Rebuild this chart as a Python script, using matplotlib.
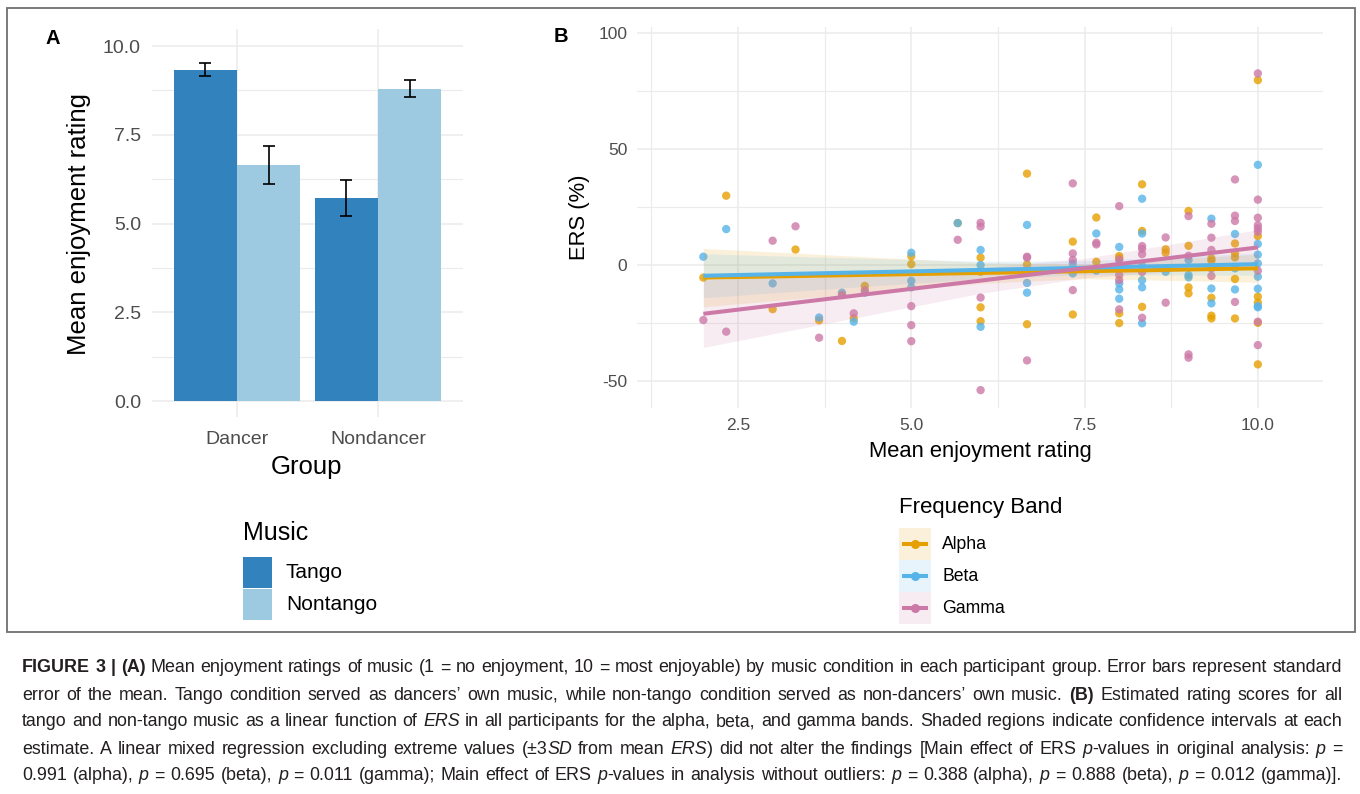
import re
import matplotlib
matplotlib.use('Agg')
import matplotlib.pyplot as plt
import numpy as np
from matplotlib.patches import Rectangle

plt.rcParams['font.family'] = ['Liberation Sans', 'DejaVu Sans']

# ---------------- Panel A data ----------------
groups = ['Dancer', 'Nondancer']
music_levels = ['Tango', 'Nontango']
tango_mean = [9.33, 5.72]
tango_se = [0.185, 0.51]
nontango_mean = [6.65, 8.80]
nontango_se = [0.535, 0.24]
a_yticks = [0.0, 2.5, 5.0, 7.5, 10.0]

# ---------------- Panel B data ----------------
bands = ['Alpha', 'Beta', 'Gamma']
alpha_x = [2.0, 2.33, 3.0, 3.33, 3.67, 4.0, 4.17, 4.33, 5.0, 5.0, 5.67, 6.0, 6.0, 6.0, 6.0,
           6.67, 6.67, 6.67, 7.33, 7.33, 7.67, 7.67, 8.0, 8.0, 8.0, 8.0, 8.33, 8.33, 8.33,
           8.67, 8.67, 9.0, 9.0, 9.0, 9.0, 9.33, 9.33, 9.33, 9.33, 9.33, 9.67, 9.67, 9.67,
           9.67, 9.67, 10.0, 10.0, 10.0, 10.0, 10.0, 10.0]
alpha_y = [-5.4, 29.9, -19.0, 6.7, -23.8, -32.7, -22.9, -9.0, 3.8, 0.4, 18.1, 3.2, -2.9, -18.2, -24.2,
           39.4, 0.3, -25.5, 10.1, -21.3, 20.5, 1.4, 3.9, 2.9, -20.8, -25.0, 34.8, 14.7, -18.0,
           6.8, 5.3, 23.3, 8.3, -9.6, -12.2, 2.9, 1.9, -14.1, -21.8, -23.0, 9.3, 5.0, 3.3,
           -6.0, -23.0, 79.7, 12.5, -13.6, -16.2, -24.9, -42.8]
beta_x = [2.0, 2.33, 3.0, 3.67, 4.0, 4.17, 4.33, 5.0, 5.0, 5.0, 5.67, 6.0, 6.0, 6.0, 6.67, 6.67,
          6.67, 7.33, 7.33, 7.67, 7.67, 8.0, 8.0, 8.0, 8.0, 8.0, 8.33, 8.33, 8.33, 8.33, 8.33,
          8.33, 8.67, 9.0, 9.0, 9.0, 9.33, 9.33, 9.33, 9.67, 9.67, 9.67, 10.0, 10.0, 10.0,
          10.0, 10.0, 10.0, 10.0, 10.0]
beta_y = [3.6, 15.5, -7.9, -22.6, -11.9, -24.4, -11.9, 5.3, -6.8, -9.6, 18.1, 6.5, 0.0, -26.6, 17.3, -7.7,
          -11.9, 0.7, -3.6, 13.6, -2.4, 7.8, 0.0, -7.9, -10.5, -14.5, 28.6, 13.6, -0.4, -6.5, -9.6,
          -25.1, -2.9, 2.2, -4.3, -5.3, 20.0, -10.1, -16.5, 13.4, -1.4, -10.5, 43.2, 9.1, 4.5,
          0.7, -5.0, -10.2, -17.7, -18.2]
gamma_x = [2.0, 2.33, 3.0, 3.33, 3.67, 4.0, 4.17, 4.33, 5.0, 5.0, 5.0, 5.67, 6.0, 6.0, 6.0, 6.0,
           6.67, 6.67, 6.67, 7.33, 7.33, 7.33, 7.33, 7.67, 7.67, 8.0, 8.0, 8.0, 8.0, 8.0, 8.33,
           8.33, 8.33, 8.33, 8.33, 8.67, 8.67, 9.0, 9.0, 9.0, 9.0, 9.33, 9.33, 9.33, 9.33, 9.33,
           9.67, 9.67, 9.67, 9.67, 10.0, 10.0, 10.0, 10.0, 10.0, 10.0, 10.0, 10.0, 10.0]
gamma_y = [-23.7, -28.7, 10.5, 16.7, -31.3, -12.9, -20.8, -10.8, -17.7, -25.9, -32.8, 10.9, 18.2, 16.6, -14.0, -53.9,
           3.6, 3.2, -41.1, 35.2, 5.0, 2.2, -10.8, 9.6, 8.9, 25.4, 2.2, -4.3, -6.5, -19.1, 8.2,
           7.0, 4.7, -3.0, -22.7, 11.9, -16.2, 21.1, 4.0, -38.5, -39.9, 17.8, 11.8, 6.5, -1.4, -4.7,
           36.9, 21.3, 19.0, -15.9, 82.6, 28.2, 20.4, 17.2, 15.8, 14.4, -2.4, -24.4, -34.5]
fit_x = [2.0, 10.0]
alpha_fit = [-5.4, -1.4]
beta_fit = [-4.6, 0.4]
gamma_fit = [-21.0, 7.6]
ci_x = [2.0, 4.0, 6.0, 7.5, 10.0]
alpha_ci_half = [12.6, 8.5, 4.5, 3.2, 6.0]
beta_ci_half = [9.5, 6.5, 3.8, 3.0, 4.8]
gamma_ci_half = [14.5, 10.0, 5.5, 4.2, 7.6]
b_xticks = [2.5, 5.0, 7.5, 10.0]
b_yticks = [-50, 0, 50, 100]

caption_lines = [
    "**FIGURE 3 | (A)** Mean enjoyment ratings of music (1 = no enjoyment, 10 = most enjoyable) by music condition in each participant group. Error bars represent standard",
    "error of the mean. Tango condition served as dancers\u2019 own music, while non-tango condition served as non-dancers\u2019 own music. **(B)** Estimated rating scores for all",
    "tango and non-tango music as a linear function of _ERS_ in all participants for the alpha, beta, and gamma bands. Shaded regions indicate confidence intervals at each",
    "estimate. A linear mixed regression excluding extreme values (\u00b13_SD_ from mean _ERS_) did not alter the findings [Main effect of ERS _p_-values in original analysis: _p_ =",
    "0.991 (alpha), _p_ = 0.695 (beta), _p_ = 0.011 (gamma); Main effect of ERS _p_-values in analysis without outliers: _p_ = 0.388 (alpha), _p_ = 0.888 (beta), _p_ = 0.012 (gamma)].",
]

# ---------------- styles ----------------
c_tango, c_nontango = '#3182bd', '#9ecae1'
band_colors = {'Alpha': '#E69F00', 'Beta': '#56B4E9', 'Gamma': '#CC79A7'}
grid_c = '#ebebeb'
tick_c = '#4d4d4d'

W, H = 1360, 794
fig = plt.figure(figsize=(W / 100, H / 100), dpi=100)


def axrect(l, t, r, b):
    return [l / W, 1 - b / H, (r - l) / W, (b - t) / H]


def style_axes(ax):
    for s in ax.spines.values():
        s.set_visible(False)
    ax.tick_params(length=0, colors=tick_c)
    ax.set_axisbelow(True)


# ---------------- Panel A ----------------
axA = fig.add_axes(axrect(152, 29, 463, 417))
style_axes(axA)
pos = np.arange(1, len(groups) + 1)
bw = 0.45
axA.bar(pos - bw / 2, tango_mean, width=bw, color=c_tango, zorder=2)
axA.bar(pos + bw / 2, nontango_mean, width=bw, color=c_nontango, zorder=2)
axA.errorbar(pos - bw / 2, tango_mean, yerr=tango_se, fmt='none', ecolor='black',
             elinewidth=1.2, capsize=4.6, capthick=1.2, zorder=3)
axA.errorbar(pos + bw / 2, nontango_mean, yerr=nontango_se, fmt='none', ecolor='black',
             elinewidth=1.2, capsize=4.6, capthick=1.2, zorder=3)
axA.set_xlim(0.397, 2.603)
axA.set_ylim(-0.45, 10.48)
axA.set_xticks(pos)
axA.set_xticklabels(groups, fontsize=14)
axA.set_yticks(a_yticks)
axA.set_yticklabels([f'{v:.1f}' for v in a_yticks], fontsize=14)
axA.set_yticks([1.25, 3.75, 6.25, 8.75], minor=True)
axA.tick_params(which='minor', length=0)
axA.tick_params(axis='y', pad=8)
axA.tick_params(axis='x', pad=10)
axA.grid(True, which='major', color=grid_c, lw=1.1)
axA.grid(True, which='minor', axis='y', color=grid_c, lw=0.8)

# ---------------- Panel B ----------------
axB = fig.add_axes(axrect(637, 27, 1323, 408))
style_axes(axB)
pts = {'Alpha': (alpha_x, alpha_y), 'Beta': (beta_x, beta_y), 'Gamma': (gamma_x, gamma_y)}
fits = {'Alpha': alpha_fit, 'Beta': beta_fit, 'Gamma': gamma_fit}
cis = {'Alpha': alpha_ci_half, 'Beta': beta_ci_half, 'Gamma': gamma_ci_half}
for b in bands:
    axB.scatter(pts[b][0], pts[b][1], s=36, color=band_colors[b], alpha=0.8,
                edgecolors='none', zorder=3)
for b in bands:
    line_at_ci = np.interp(ci_x, fit_x, fits[b])
    axB.fill_between(ci_x, line_at_ci - np.array(cis[b]), line_at_ci + np.array(cis[b]),
                     color=band_colors[b], alpha=0.14, lw=0, zorder=4)
for b in bands:
    axB.plot(fit_x, fits[b], color=band_colors[b], lw=2.9, zorder=5, solid_capstyle='butt')
axB.set_xlim(1.043, 10.94)
axB.set_ylim(-61.6, 102.6)
axB.set_xticks(b_xticks)
axB.set_xticklabels([f'{v:.1f}' for v in b_xticks], fontsize=12.5)
axB.set_yticks(b_yticks)
axB.set_yticklabels([str(v) for v in b_yticks], fontsize=12.5)
axB.set_xticks([1.25, 3.75, 6.25, 8.75], minor=True)
axB.set_yticks([-25, 25, 75], minor=True)
axB.tick_params(which='minor', length=0)
axB.tick_params(axis='y', pad=7)
axB.tick_params(axis='x', pad=7)
axB.grid(True, which='major', color=grid_c, lw=1.1)
axB.grid(True, which='minor', color=grid_c, lw=0.8)

# ---------------- overlay (pixel coordinates) ----------------
ov = fig.add_axes([0, 0, 1, 1], zorder=10)
ov.set_xlim(0, W)
ov.set_ylim(H, 0)
ov.axis('off')
ov.patch.set_alpha(0)

ov.add_patch(Rectangle((7, 8), 1348, 624, fill=False, edgecolor='#707070', lw=1.3))

ov.text(52.5, 39, 'A', fontsize=14.5, fontweight='bold', ha='center', va='center')
ov.text(560.5, 37, 'B', fontsize=14.5, fontweight='bold', ha='center', va='center')

ov.text(79, 224, 'Mean enjoyment rating', fontsize=18.5, rotation=90, ha='center', va='center')
ov.text(307, 467, 'Group', fontsize=18.5, ha='center', va='center')
ov.text(580, 217, 'ERS (%)', fontsize=15.8, rotation=90, ha='center', va='center')
ov.text(980, 451, 'Mean enjoyment rating', fontsize=15.8, ha='center', va='center')

# legend A
ov.text(243, 533, 'Music', fontsize=18, ha='left', va='center')
for i, (lab, col) in enumerate(zip(music_levels, [c_tango, c_nontango])):
    top = 557 + i * 32
    ov.add_patch(Rectangle((243, top), 29, 30.5, color=col, lw=0))
    ov.text(286, top + 15.5, lab, fontsize=15, ha='left', va='center')

# legend B
ov.text(899, 507, 'Frequency Band', fontsize=16, ha='left', va='center')
for i, b in enumerate(bands):
    top = 528 + i * 32
    ov.add_patch(Rectangle((899, top), 31.5, 32, color=band_colors[b], alpha=0.14, lw=0))
    cy = top + 16
    ov.plot([901.5, 928], [cy, cy], color=band_colors[b], lw=2.9, solid_capstyle='butt')
    ov.plot([914.75], [cy], marker='o', ms=6.5, color=band_colors[b], mec='none')
    ov.text(942, cy + 0.5, b, fontsize=12.7, ha='left', va='center')

# caption with justified lines
fig.canvas.draw()
renderer = fig.canvas.get_renderer()
cap_x0, cap_x1 = 22, 1342
cap_ys = [668, 695, 722, 749, 776]


def parse_word(word, state):
    runs = []
    for tok in re.split(r'(\*\*|_)', word):
        if tok == '**':
            state['bold'] = not state['bold']
        elif tok == '_':
            state['italic'] = not state['italic']
        elif tok:
            runs.append((tok, state['bold'], state['italic']))
    return runs


def build_lines(size):
    state = {'bold': False, 'italic': False}
    out = []
    for line, y in zip(caption_lines, cap_ys):
        words = [parse_word(w, state) for w in line.split(' ')]
        word_artists, widths = [], []
        for runs in words:
            arts, wsum = [], 0
            for txt, bold, ital in runs:
                t = ov.text(0, y, txt, fontsize=size, ha='left', va='center', color='#231f20',
                            fontweight='bold' if bold else 'normal',
                            fontstyle='italic' if ital else 'normal')
                wdt = t.get_window_extent(renderer).width
                arts.append((t, wdt))
                wsum += wdt
            word_artists.append(arts)
            widths.append(wsum)
        out.append((word_artists, widths))
    return out


# pick size so that the widest line (with normal spaces) fits the width
base = 12.0
lines_built = build_lines(base)
space_w = base * 100 / 72 * 0.278
need = []
for wa, widths in lines_built:
    need.append(sum(widths) + space_w * (len(widths) - 1))
scale = (cap_x1 - cap_x0) / max(need)
for wa, _ in lines_built:
    for arts in wa:
        for t, _w in arts:
            t.remove()
cap_size = base * scale * 0.995
lines_built = build_lines(cap_size)

for wa, widths in lines_built:
    gap = (cap_x1 - cap_x0 - sum(widths)) / max(len(widths) - 1, 1)
    x = cap_x0
    for arts, wsum in zip(wa, widths):
        xx = x
        for t, wdt in arts:
            t.set_x(xx)
            xx += wdt
        x += wsum + gap

fig.savefig('out.png', dpi=100)
